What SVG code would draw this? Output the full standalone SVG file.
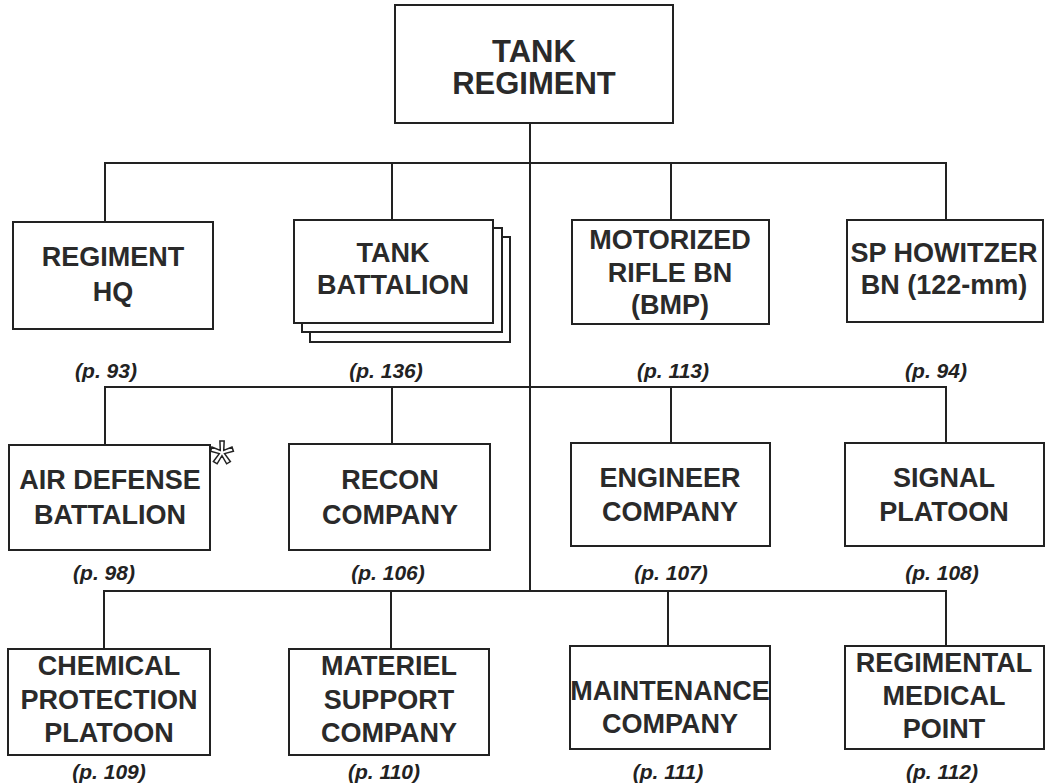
<svg xmlns="http://www.w3.org/2000/svg" width="1045" height="784" viewBox="0 0 1045 784">
<style>
.box{fill:#fff;stroke:#222;stroke-width:2}
.ln{fill:none;stroke:#222;stroke-width:2}
.t{font-family:"Liberation Sans",Arial,sans-serif;font-weight:bold;font-size:27px;fill:#2a2a2a;text-anchor:middle}
.top{font-size:31px}
.p{font-family:"Liberation Sans",Arial,sans-serif;font-weight:bold;font-style:italic;font-size:21px;fill:#222;text-anchor:middle}
</style>
<rect width="1045" height="784" fill="#fff"/>
<g id="connectors">
<path class="ln" d="M530 123V591"/>
<path class="ln" d="M105 222V163H946V220M392 163V220M671 163V220"/>
<path class="ln" d="M105 445V387H946V443M392 387V444M671 387V443"/>
<path class="ln" d="M104 649V591H946V646M391 591V649M668 591V646"/>
</g>
<g id="tank-regiment">
<rect class="box" x="395" y="5" width="278" height="118"/>
<text class="t top" x="534" y="62">TANK</text>
<text class="t top" x="534" y="94">REGIMENT</text>
</g>
<g id="regiment-hq">
<rect class="box" x="13" y="222" width="200" height="107"/>
<text class="t" x="113" y="266">REGIMENT</text>
<text class="t" x="113" y="301">HQ</text>
<text class="p" x="106" y="378">(p. 93)</text>
</g>
<g id="tank-battalion">
<rect class="box" x="310" y="237" width="200" height="105"/>
<rect class="box" x="302" y="228" width="200" height="104"/>
<rect class="box" x="294" y="220" width="199" height="103"/>
<text class="t" x="393" y="262">TANK</text>
<text class="t" x="393" y="294">BATTALION</text>
<text class="p" x="386" y="378">(p. 136)</text>
</g>
<g id="motorized-rifle-bn">
<rect class="box" x="572" y="220" width="197" height="104"/>
<text class="t" x="670" y="249">MOTORIZED</text>
<text class="t" x="670" y="282">RIFLE BN</text>
<text class="t" x="670" y="314">(BMP)</text>
<text class="p" x="673" y="378">(p. 113)</text>
</g>
<g id="sp-howitzer-bn">
<rect class="box" x="847" y="220" width="196" height="102"/>
<text class="t" x="944" y="262">SP HOWITZER</text>
<text class="t" x="944" y="294">BN (122-mm)</text>
<text class="p" x="936" y="378">(p. 94)</text>
</g>
<g id="air-defense-battalion">
<rect class="box" x="9" y="445" width="201" height="105"/>
<text class="t" x="110" y="489">AIR DEFENSE</text>
<text class="t" x="110" y="524">BATTALION</text>
<text x="222" y="486" font-family="Liberation Sans,Arial,sans-serif" font-size="64" fill="#fff" stroke="#222" stroke-width="1.5" text-anchor="middle">*</text>
<text class="p" x="104" y="580">(p. 98)</text>
</g>
<g id="recon-company">
<rect class="box" x="289" y="444" width="201" height="106"/>
<text class="t" x="390" y="489">RECON</text>
<text class="t" x="390" y="524">COMPANY</text>
<text class="p" x="388" y="580">(p. 106)</text>
</g>
<g id="engineer-company">
<rect class="box" x="571" y="443" width="199" height="103"/>
<text class="t" x="670" y="487">ENGINEER</text>
<text class="t" x="670" y="521">COMPANY</text>
<text class="p" x="671" y="580">(p. 107)</text>
</g>
<g id="signal-platoon">
<rect class="box" x="845" y="443" width="199" height="103"/>
<text class="t" x="944" y="487">SIGNAL</text>
<text class="t" x="944" y="521">PLATOON</text>
<text class="p" x="942" y="580">(p. 108)</text>
</g>
<g id="chemical-protection-platoon">
<rect class="box" x="8" y="649" width="202" height="106"/>
<text class="t" x="109" y="675">CHEMICAL</text>
<text class="t" x="109" y="709">PROTECTION</text>
<text class="t" x="109" y="742">PLATOON</text>
<text class="p" x="109" y="779">(p. 109)</text>
</g>
<g id="materiel-support-company">
<rect class="box" x="289" y="649" width="200" height="106"/>
<text class="t" x="389" y="675">MATERIEL</text>
<text class="t" x="389" y="709">SUPPORT</text>
<text class="t" x="389" y="742">COMPANY</text>
<text class="p" x="384" y="779">(p. 110)</text>
</g>
<g id="maintenance-company">
<rect class="box" x="570" y="646" width="200" height="103"/>
<text class="t" x="670" y="700">MAINTENANCE</text>
<text class="t" x="670" y="733">COMPANY</text>
<text class="p" x="668" y="779">(p. 111)</text>
</g>
<g id="regimental-medical-point">
<rect class="box" x="845" y="646" width="199" height="103"/>
<text class="t" x="944" y="672">REGIMENTAL</text>
<text class="t" x="944" y="705">MEDICAL</text>
<text class="t" x="944" y="738">POINT</text>
<text class="p" x="942" y="779">(p. 112)</text>
</g>
</svg>
